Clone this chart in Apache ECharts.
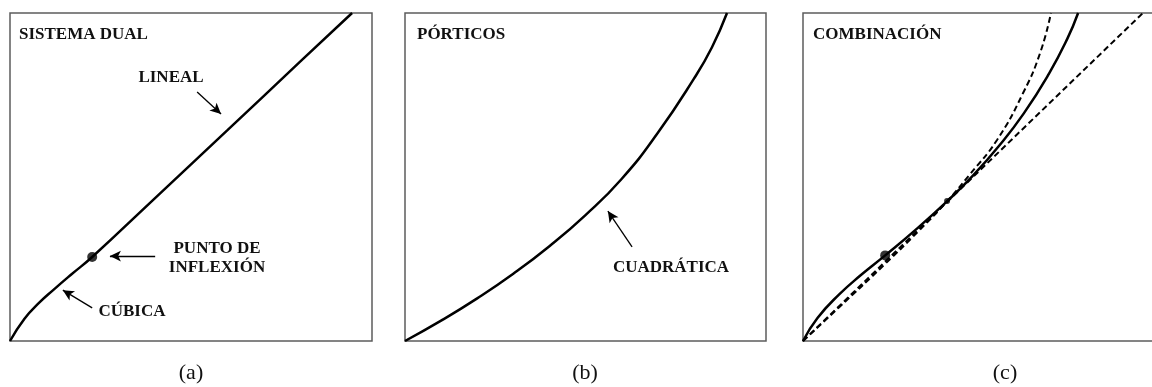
<!DOCTYPE html>
<html>
<head>
<meta charset="utf-8">
<title>Sistema dual, pórticos y combinación</title>
<script src="https://cdn.jsdelivr.net/npm/echarts@6/dist/echarts.min.js"></script>
<style>
  html, body { margin: 0; padding: 0; background: #ffffff; }
  #chart { width: 1152px; height: 387px; }
</style>
</head>
<body>
<div id="chart"></div>
<script>
// Panel titles and captions
const panelTitles = ['SISTEMA DUAL', 'PÓRTICOS', 'COMBINACIÓN'];
const panelCaptions = ['(a)', '(b)', '(c)'];

// (a) dual system: cubic start up to the inflection point, then linear
const dualCurve = [
  [0, 0], [4, 6.8], [8, 11.6], [12, 15.6], [17, 20.35], [22.7, 25.6],
  [40, 43.5], [60, 64.2], [80, 85.0], [94.5, 100]
];
const dualInflection = [[22.7, 25.6]];

// (b) moment frames: quadratic curve
const frameCurve = [
  [0, 0], [10, 6.2], [20, 13.0], [30, 20.5], [40, 28.9], [50, 38.4],
  [60, 49.4], [70, 63.4], [80, 79.9], [85, 89.5], [89.2, 100]
];

// (c) combination: solid combined curve, dashed linear and quadratic references
const comboCurve = [
  [0, 0], [4, 7.0], [10, 14.2], [16, 20.1], [22.7, 26.1], [31, 33.8],
  [40, 42.8], [47, 50.5], [54, 59.3], [61, 69.4], [68, 81.6], [73, 92.1], [76, 100]
];
const comboLinear = [[0, 0], [93.9, 100]];
const comboQuadratic = [
  [0, 0], [10, 10.3], [22.7, 23.5], [32, 33.6], [39.8, 42.6], [46.1, 50.8],
  [53.6, 61.3], [60.8, 75.6], [65.5, 87.8], [68.5, 100]
];
const comboBigDot = [[22.7, 26.1]];
const comboSmallDot = [[39.8, 42.7]];

// Annotation arrows (start -> tip) in panel units
const arrowsA = [
  [[51.7, 75.9], [58.3, 69.2]],   // LINEAL
  [[40.1, 25.9], [27.6, 25.9]],   // PUNTO DE INFLEXIÓN
  [[22.7, 10.1], [14.6, 15.5]]    // CÚBICA
];
const arrowsB = [
  [[62.9, 28.7], [56.2, 39.6]]    // CUADRÁTICA
];

const chart = echarts.init(document.getElementById('chart'), null, { renderer: 'canvas' });

const serif = 'Liberation Serif, Times New Roman, serif';
const ink = '#000000';

// the third frame runs past the right edge of the canvas
const grids = [
  { left: 10, top: 13, width: 362, height: 328 },
  { left: 405, top: 13, width: 361, height: 328 },
  { left: 803, top: 13, width: 362, height: 328 }
].map(g => Object.assign(g, {
  show: true, borderColor: '#5c5c5c', borderWidth: 1.5,
  backgroundColor: 'transparent', containLabel: false, outerBoundsMode: 'none'
}));

const axisBase = { type: 'value', min: 0, max: 100, show: false };
const xAxes = grids.map((_, i) => Object.assign({ gridIndex: i }, axisBase));
const yAxes = grids.map((_, i) => Object.assign({ gridIndex: i }, axisBase));

function curve(idx, data, style) {
  const dashed = !!style;
  return {
    type: 'line', xAxisIndex: idx, yAxisIndex: idx, data: data,
    showSymbol: false, smooth: style === 'straight' ? false : 0.5,
    lineStyle: {
      color: ink, width: dashed ? 2 : 2.5,
      type: dashed ? [6, 3.5] : 'solid', cap: 'butt'
    },
    clip: true, silent: true, z: 3
  };
}
function dots(idx, data, size) {
  return {
    type: 'scatter', xAxisIndex: idx, yAxisIndex: idx, data: data,
    symbol: 'circle', symbolSize: size, itemStyle: { color: ink }, silent: true, z: 5
  };
}
function arrows(idx, list) {
  return {
    type: 'line', xAxisIndex: idx, yAxisIndex: idx, data: [], silent: true,
    markLine: {
      silent: true, symbol: ['none', 'arrow'], symbolSize: [8, 11],
      label: { show: false },
      lineStyle: { color: ink, width: 1.3, type: 'solid' },
      emphasis: { disabled: true },
      data: list.map(a => [{ coord: a[0] }, { coord: a[1] }])
    }
  };
}

const boldText = (text, x, y, align) => ({
  type: 'text', x: x, y: y,
  style: {
    text: text, fill: '#111', font: 'bold 17px ' + serif,
    textAlign: align || 'left', textVerticalAlign: 'middle'
  }
});
const captionText = (text, x, y) => ({
  type: 'text', x: x, y: y,
  style: {
    text: text, fill: '#111', font: '22px ' + serif,
    textAlign: 'center', textVerticalAlign: 'middle'
  }
});

chart.setOption({
  animation: false,
  backgroundColor: '#ffffff',
  grid: grids,
  xAxis: xAxes,
  yAxis: yAxes,
  series: [
    curve(0, dualCurve),
    dots(0, dualInflection, 10),
    arrows(0, arrowsA),
    curve(1, frameCurve),
    arrows(1, arrowsB),
    curve(2, comboCurve),
    curve(2, comboLinear, 'straight'),
    curve(2, comboQuadratic, 'dashed'),
    dots(2, comboBigDot, 10),
    dots(2, comboSmallDot, 6)
  ],
  graphic: [
    boldText(panelTitles[0], 19, 35),
    boldText(panelTitles[1], 417, 35),
    boldText(panelTitles[2], 813, 35),
    boldText('LINEAL', 171, 78, 'center'),
    boldText('PUNTO DE', 217, 249, 'center'),
    boldText('INFLEXIÓN', 217, 268, 'center'),
    boldText('CÚBICA', 132, 312, 'center'),
    boldText('CUADRÁTICA', 671, 268, 'center'),
    captionText(panelCaptions[0], 191, 373),
    captionText(panelCaptions[1], 585, 373),
    captionText(panelCaptions[2], 1005, 373)
  ]
});
</script>
</body>
</html>
